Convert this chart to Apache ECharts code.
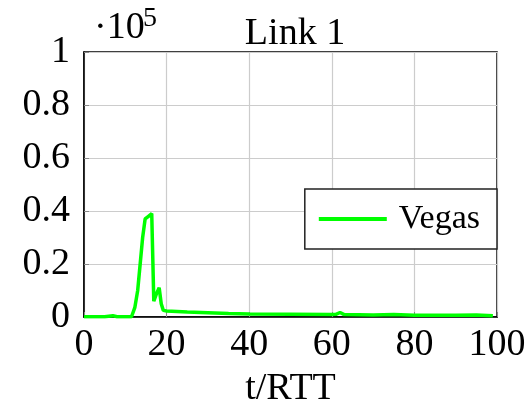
<!DOCTYPE html>
<html><head><meta charset="utf-8">
<script src="https://cdn.jsdelivr.net/npm/echarts@6/dist/echarts.min.js"></script>
<style>html,body{margin:0;padding:0;background:#fff}#c{width:530px;height:413px}</style>
</head><body><div id="c"></div>
<script>
const title = 'Link 1';
const seriesName = 'Vegas';
const xLabel = 't/RTT';
const tValues = [0, 3, 5, 7, 8, 10, 11.5, 12.3, 13, 13.6, 14.2, 14.8, 15.6, 16.4, 16.9, 17.6, 18.2, 18.7, 19.2, 20, 25, 30, 35, 40, 50, 60, 61, 62, 63, 70, 75, 80, 90, 95, 99];
const vegasValues = [100, 100, 100, 500, 100, 100, 100, 3500, 10000, 20000, 30000, 37000, 38000, 39000, 6000, 9000, 11000, 5000, 2500, 2300, 1900, 1600, 1300, 1100, 1000, 900, 1000, 1700, 900, 800, 900, 700, 700, 800, 500];
const xTicks = [0, 20, 40, 60, 80, 100];
const yTicks = [0, 0.2, 0.4, 0.6, 0.8, 1];
const scale = 1e5;

const chart = echarts.init(document.getElementById('c'));
const font = 'Liberation Serif';
const fs = 38;
chart.setOption({
  backgroundColor: '#fff',
  animation: false,
  title: {text: title, left: 290, top: 10, textAlign: 'center',
    textStyle: {fontFamily: font, fontSize: fs, fontWeight: 'normal', color: '#000'}},
  graphic: [
    {type: 'text', left: 94, top: 9, style: {text: '·10', font: `${fs}px "${font}"`, fill: '#000'}},
    {type: 'text', left: 143, top: 5, style: {text: '5', font: `28px "${font}"`, fill: '#000'}}
  ],
  grid: {left: 84, right: 33, top: 52, bottom: 90, show: true, borderColor: '#000', borderWidth: 1.5, containLabel: false},
  legend: {data: [seriesName], right: 33, top: 189, orient: 'vertical',
    backgroundColor: '#fff', borderColor: '#222', borderWidth: 1.5, padding: [13, 17, 13, 14],
    itemWidth: 68, itemHeight: 4, itemGap: 10, icon: 'rect',
    textStyle: {fontFamily: font, fontSize: 34, color: '#000', padding: [0,0,0,7]}},
  xAxis: {type: 'value', min: 0, max: 100, interval: 20, name: xLabel, nameLocation: 'middle', nameGap: 53,
    nameTextStyle: {fontFamily: font, fontSize: fs, color: '#000', verticalAlign: 'top'},
    axisLine: {show: true, lineStyle: {color: '#000', width: 1.5}},
    axisTick: {show: true, inside: true, length: 5, lineStyle: {color: '#888'}},
    axisLabel: {fontFamily: font, fontSize: fs, color: '#000', margin: 9},
    splitLine: {show: true, lineStyle: {color: '#ccc', width: 1.2}}},
  yAxis: {type: 'value', min: 0, max: scale, interval: 0.2 * scale,
    axisLine: {show: true, lineStyle: {color: '#000', width: 1.5}},
    axisTick: {show: true, inside: true, length: 5, lineStyle: {color: '#888'}},
    axisLabel: {fontFamily: font, fontSize: fs, color: '#000', margin: 14,
      formatter: v => { const r = Math.round(v / scale * 10) / 10; return String(yTicks.find(t => Math.abs(t - r) < 1e-9) ?? r); }},
    splitLine: {show: true, lineStyle: {color: '#ccc', width: 1.2}}},
  series: [{name: seriesName, type: 'line', showSymbol: false, symbol: 'none',
    data: tValues.map((t, i) => [t, vegasValues[i]]),
    lineStyle: {color: '#00ff00', width: 3.5}, itemStyle: {color: '#00ff00'}}]
});
</script></body></html>
